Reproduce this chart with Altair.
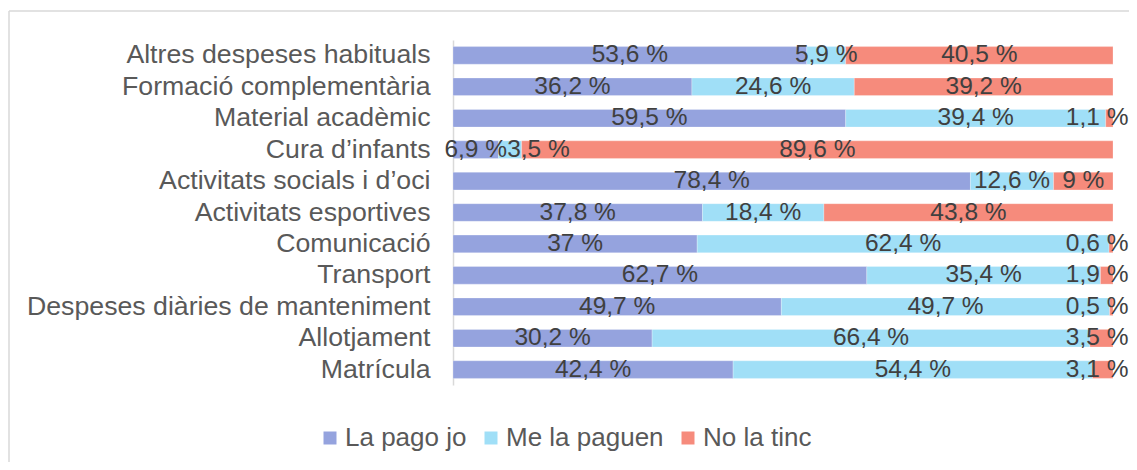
import altair as alt
import pandas as pd

cats = ["Altres despeses habituals", "Formació complementària", "Material acadèmic",
        "Cura d’infants", "Activitats socials i d’oci", "Activitats esportives",
        "Comunicació", "Transport", "Despeses diàries de manteniment",
        "Allotjament", "Matrícula"]
series = ["La pago jo", "Me la paguen", "No la tinc"]
pago = [53.6, 36.2, 59.5, 6.9, 78.4, 37.8, 37, 62.7, 49.7, 30.2, 42.4]
paguen = [5.9, 24.6, 39.4, 3.5, 12.6, 18.4, 62.4, 35.4, 49.7, 66.4, 54.4]
tinc = [40.5, 39.2, 1.1, 89.6, 9, 43.8, 0.6, 1.9, 0.5, 3.5, 3.1]
colors = ["#95A3DE", "#A0DFF7", "#F68B7C"]


def fmt(v):
    return f"{v:g}".replace(".", ",") + " %"


rows = []
for i, c in enumerate(cats):
    for j, (s, vals) in enumerate(zip(series, [pago, paguen, tinc])):
        rows.append({"cat": c, "serie": s, "val": vals[i], "ord": j, "label": fmt(vals[i])})
df = pd.DataFrame(rows)

FONT = "Liberation Sans"

base = alt.Chart(df).transform_stack(
    stack="val", groupby=["cat"], as_=["x0", "x1"], offset="normalize",
    sort=[alt.SortField("ord")]
)

yenc = alt.Y("cat:N", sort=cats,
             scale=alt.Scale(paddingInner=0.44, paddingOuter=0.21),
             axis=alt.Axis(title=None, ticks=False, grid=False, domainColor="#d9d9d9",
                           domainWidth=1.5, labelFontSize=26.7, labelColor="#595959",
                           labelFont=FONT, labelPadding=23, labelLimit=600))

bars = base.mark_bar(stroke="white", strokeWidth=0.5, strokeOpacity=0.5).encode(
    y=yenc,
    x=alt.X("x0:Q", scale=alt.Scale(domain=[0, 1]), axis=None),
    x2="x1:Q",
    color=alt.Color("serie:N", scale=alt.Scale(domain=series, range=colors),
                    legend=alt.Legend(orient="none", legendX=-136, legendY=385,
                                      direction="horizontal", title=None,
                                      symbolType="square", symbolSize=169,
                                      symbolStrokeWidth=0, labelFontSize=26,
                                      labelFont=FONT, labelColor="#595959",
                                      labelOffset=2, columnPadding=11)),
    order=alt.Order("ord:Q"),
)

text = base.transform_calculate(
    mid="(datum.x0 + datum.x1) / 2"
).transform_window(
    window=[alt.WindowFieldDef(op="lag", field="mid", **{"as": "prev"})],
    groupby=["cat"], sort=[alt.SortField("ord")]
).transform_calculate(
    pos="min(isValid(datum.prev) ? max(datum.mid, datum.prev + 0.095) : datum.mid, 0.976)"
).mark_text(fontSize=24.5, color="#404040", font=FONT, baseline="middle").encode(
    y=alt.Y("cat:N", sort=cats),
    x=alt.X("pos:Q"),
    text="label:N",
)

one = pd.DataFrame({"a": [0]})
frame_v = alt.Chart(one).mark_rule(color="#d9d9d9", strokeWidth=1.5).encode(
    x=alt.value(-444), y=alt.value(-29), y2=alt.value(430))
frame_h = alt.Chart(one).mark_rule(color="#d9d9d9", strokeWidth=1.5).encode(
    x=alt.value(-444), x2=alt.value(690), y=alt.value(-29))

chart = alt.layer(frame_v, frame_h, bars, text).properties(
    width=660, height=345,
    padding={"left": 445, "top": 32, "right": 16, "bottom": 77},
    autosize=alt.AutoSizeParams(type="none"),
).configure_view(stroke=None)

chart.save("out.html", embed_options={"renderer": "svg", "actions": False})
